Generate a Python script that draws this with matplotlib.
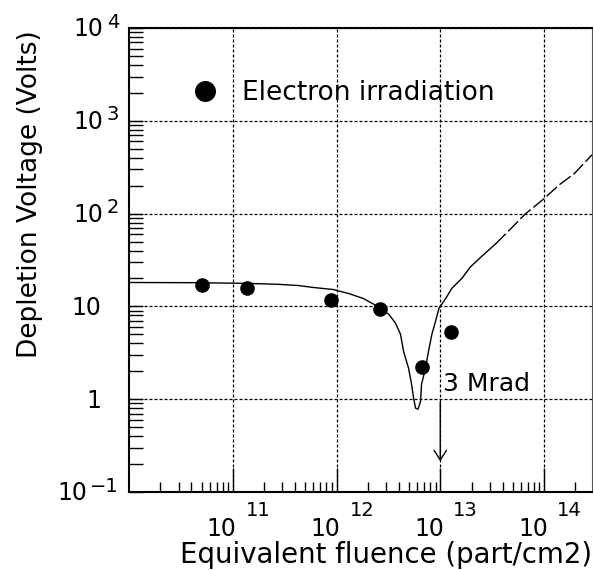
import numpy as np
import matplotlib
matplotlib.use('Agg')
import matplotlib.pyplot as plt
from matplotlib.ticker import LogLocator, NullFormatter

#(1) Data
fluence_pts = [5.0e10, 1.37e11, 8.9e11, 2.65e12, 6.6e12, 1.26e13]       #measured points
vdep_pts = [17.2, 15.6, 11.6, 9.3, 2.2, 5.25]

fit_x = [1e10, 4.6e10, 1.4e11, 2.73e11, 4.26e11, 5.96e11, 9.3e11, 1.3e12, 1.8e12,
         2.5e12, 3.2e12, 3.7e12, 4.14e12, 4.43e12, 4.95e12, 5.29e12, 5.53e12, 5.78e12,
         6.1e12, 6.46e12, 6.6e12, 7.2e12, 7.7e12, 8.3e12, 9.0e12, 9.7e12, 1.13e13,
         1.29e13, 1.61e13, 1.97e13, 2.5e13, 3.44e13]
fit_y = [18.1, 18.0, 17.7, 17.3, 16.8, 16.0, 15.2, 13.8, 12.2,
         10.0, 8.2, 6.6, 5.0, 3.28, 2.15, 1.45, 1.03, 0.80,
         0.78, 0.95, 1.45, 2.15, 3.28, 5.0, 6.9, 9.5, 12.2,
         15.6, 20.0, 26.9, 34.5, 47.5]
extrap_x = [3.44e13, 4.8e13, 6.5e13, 1e14, 1.4e14, 1.96e14, 2.9e14]      #dashed part
extrap_y = [47.5, 69, 97.6, 145, 204, 270, 430]

xticks = [1e11, 1e12, 1e13, 1e14]
xtick_exp = ['11', '12', '13', '14']
yticks = [1e4, 1e3, 1e2, 10, 1, 0.1]
ytick_base = ['10', '10', '10', '10', '1', '10']
ytick_exp = ['4', '3', '2', '', '', '\u22121']

mrad_fluence = 1e13        #3 Mrad marker

#(2) Figure
fig = plt.figure(figsize=(5.93, 5.70), dpi=100)
ax = fig.add_axes([129/593, 78/570, 463/593, 464/570])
ax.set_xscale('log')
ax.set_yscale('log')
ax.set_xlim(1e10, 2.9e14)
ax.set_ylim(0.1, 1e4)

dots = (0, (2.4, 1.6))
ax.set_xticks(xticks)
ax.set_yticks(yticks)
ax.xaxis.set_minor_locator(LogLocator(base=10, subs=np.arange(2, 10), numticks=20))
ax.yaxis.set_minor_locator(LogLocator(base=10, subs=np.arange(2, 10), numticks=20))
ax.xaxis.set_minor_formatter(NullFormatter())
ax.yaxis.set_minor_formatter(NullFormatter())
ax.grid(True, which='major', color='black', linewidth=0.9, linestyle=dots)
ax.tick_params(which='both', direction='in', labelbottom=False, labelleft=False,
               top=False, right=False, color='black', width=1)
ax.tick_params(axis='x', which='major', length=17)
ax.tick_params(axis='x', which='minor', length=7)
ax.tick_params(axis='y', which='both', length=10)
for side in ['left', 'bottom', 'top']:
    ax.spines[side].set_linewidth(1.5)
ax.spines['right'].set_linewidth(0.8)
ax.spines['right'].set_color('#555555')

#(3) Curve + points
ax.plot(fit_x, fit_y, color='black', linewidth=1.0)
ax.plot(extrap_x, extrap_y, color='black', linewidth=1.0, linestyle=(0, (10, 2.5)))
pts, = ax.plot(fluence_pts, vdep_pts, 'o', color='black', markersize=9.5,
               label='Electron irradiation')

leg = ax.legend(handles=[pts], loc='center left', bbox_to_anchor=(63/463, 0.86),
                frameon=False, fontsize=19, markerscale=20/13.5, handlelength=1.0,
                handletextpad=0.9, borderpad=0, borderaxespad=0)

#(4) 3 Mrad arrow
ax.annotate('', xy=(mrad_fluence, 0.2), xytext=(mrad_fluence, 1.0),
            arrowprops=dict(arrowstyle='->,head_length=0.7,head_width=0.45',
                            color='black', linewidth=1.0))
ax.annotate('3 Mrad', xy=(mrad_fluence, 1.0), xytext=(3, 15), textcoords='offset pixels',
            fontsize=18, ha='left', va='center')

#(5) Tick labels written out like the original (10 + raised exponent)
for v, e in zip(xticks, xtick_exp):
    ax.annotate('10', xy=(v, 0), xycoords=('data', 'axes fraction'), xytext=(4, -37),
                textcoords='offset pixels', ha='right', va='center', fontsize=17)
    ax.annotate(e, xy=(v, 0), xycoords=('data', 'axes fraction'), xytext=(13, -19),
                textcoords='offset pixels', ha='left', va='center', fontsize=14)

for v, b, e in zip(yticks, ytick_base, ytick_exp):
    if e:
        ex = ax.annotate(e, xy=(0, v), xycoords=('axes fraction', 'data'), xytext=(-10, 6),
                         textcoords='offset pixels', ha='right', va='center', fontsize=14)
        ax.annotate(b, xy=(0, 0.5), xycoords=ex, xytext=(-3, -7),
                    textcoords='offset pixels', ha='right', va='center', fontsize=17)
    else:
        ax.annotate(b, xy=(0, v), xycoords=('axes fraction', 'data'), xytext=(-28, -2),
                    textcoords='offset pixels', ha='right', va='center', fontsize=17)

ax.set_xlabel('Equivalent fluence (part/cm2)', fontsize=19.8, va='center')
ax.xaxis.set_label_coords(257/463, -63/464)
ax.set_ylabel('Depletion Voltage (Volts)', fontsize=19, va='center')
ax.yaxis.set_label_coords(-99/463, 298/464)

fig.savefig('out.png', dpi=100)
